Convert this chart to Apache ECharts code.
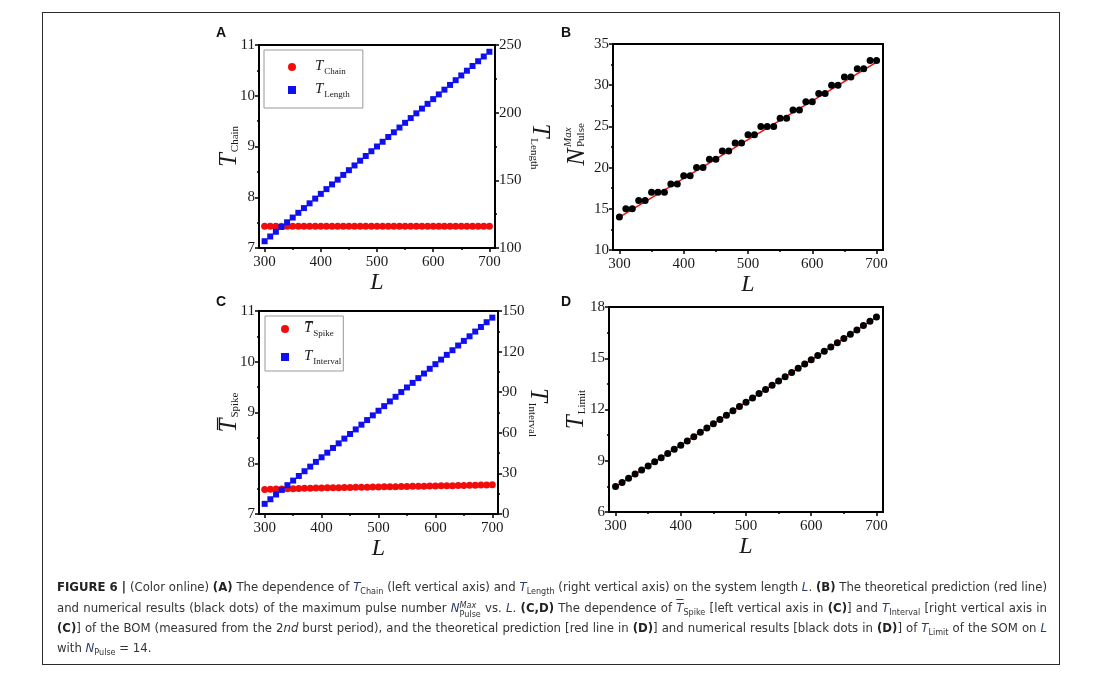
<!DOCTYPE html>
<html>
<head>
<meta charset="utf-8">
<script src="https://cdn.jsdelivr.net/npm/echarts@6/dist/echarts.min.js"></script>
<style>
  html, body { margin: 0; padding: 0; background: #fff; }
  #wrap { position: relative; width: 1105px; height: 689px; overflow: hidden; }
  #chart { position: absolute; left: 0; top: 0; width: 1105px; height: 689px; }
  #frame { position: absolute; left: 42px; top: 12px; width: 1016px; height: 651px; border: 1px solid #2a2a2a; pointer-events: none; }
  .cap { position: absolute; left: 57px; width: 990px; white-space: nowrap; font-family: 'Liberation Sans Narrow', 'DejaVu Sans Condensed', 'Liberation Sans', sans-serif; font-size: 13px; color: #333; line-height: 16px; }
  .just { text-align: justify; text-align-last: justify; }
  .cap b { font-weight: bold; color: #222; }
  .cap i.m { font-style: italic; color: #2b3a6e; }
  .cap sub { font-size: 9px; vertical-align: -3px; line-height: 0; color: #333; }
  .ss { display: inline-flex; flex-direction: column; vertical-align: 4px; line-height: 9px; font-size: 9px; }
  .ov { text-decoration: overline; }
</style>
</head>
<body>
<div id="wrap">
  <div id="chart"></div>
  <div id="frame"></div>
  <div class="cap just" style="top:579px"><b>FIGURE 6 |</b> (Color online) <b>(A)</b> The dependence of <i class="m">T</i><sub>Chain</sub> (left vertical axis) and <i class="m">T</i><sub>Length</sub> (right vertical axis) on the system length <i class="m">L</i>. <b>(B)</b> The theoretical prediction (red line)</div>
  <div class="cap just" style="top:600px">and numerical results (black dots) of the maximum pulse number <i class="m">N</i><span class="ss"><i>Max</i><span>Pulse</span></span> vs. <i class="m">L</i>. <b>(C,D)</b> The dependence of <i class="m ov">T</i><sub>Spike</sub> [left vertical axis in <b>(C)</b>] and <i class="m">T</i><sub>Interval</sub> [right vertical axis in</div>
  <div class="cap just" style="top:620px"><b>(C)</b>] of the BOM (measured from the 2<i>nd</i> burst period), and the theoretical prediction [red line in <b>(D)</b>] and numerical results [black dots in <b>(D)</b>] of <i class="m">T</i><sub>Limit</sub> of the SOM on <i class="m">L</i></div>
  <div class="cap" style="top:640px">with <i class="m">N</i><sub>Pulse</sub> = 14.</div>
</div>
<script>
// ---------------- data ----------------
const L = [300,310,320,330,340,350,360,370,380,390,400,410,420,430,440,450,460,470,480,490,500,
           510,520,530,540,550,560,570,580,590,600,610,620,630,640,650,660,670,680,690,700];
const xTicks = [300,400,500,600,700];
const xMinorTicks = [350,450,550,650];

// Panel A
const tChain = [7.43,7.43,7.43,7.43,7.43,7.43,7.43,7.43,7.43,7.43,7.43,7.43,7.43,7.43,7.43,7.43,7.43,7.43,7.43,7.43,7.43,
                7.43,7.43,7.43,7.43,7.43,7.43,7.43,7.43,7.43,7.43,7.43,7.43,7.43,7.43,7.43,7.43,7.43,7.43,7.43,7.43];
const tLength = [105,108.5,112,115.5,119,122.5,126,129.5,133,136.5,140,143.5,147,150.5,154,157.5,161,164.5,168,171.5,175,
                 178.5,182,185.5,189,192.5,196,199.5,203,206.5,210,213.5,217,220.5,224,227.5,231,234.5,238,241.5,245];

// Panel B
const nPulseMax = [14,15,15,16,16,17,17,17,18,18,19,19,20,20,21,21,22,22,23,23,24,
                   24,25,25,25,26,26,27,27,28,28,29,29,30,30,31,31,32,32,33,33];
const nPulseTheoryL = [300,700];
const nPulseTheory = [14.0,32.8];

// Panel C
const tSpike = [7.485,7.488,7.492,7.495,7.497,7.500,7.503,7.505,7.508,7.510,7.512,7.515,7.517,7.519,7.521,7.523,7.525,7.527,7.529,7.531,7.533,
                7.535,7.537,7.539,7.541,7.543,7.545,7.547,7.549,7.551,7.553,7.555,7.557,7.559,7.561,7.563,7.565,7.567,7.569,7.571,7.575];
const tInterval = [7.5,10.9,14.4,17.8,21.3,24.7,28.1,31.6,35.0,38.5,41.9,45.3,48.8,52.2,55.7,59.1,62.5,66.0,69.4,72.9,76.3,
                   79.7,83.2,86.6,90.1,93.5,96.9,100.4,103.8,107.3,110.7,114.1,117.6,121.0,124.5,127.9,131.3,134.8,138.2,141.7,145.1];

// Panel D
const tLimit = [7.49,7.73,7.97,8.22,8.46,8.70,8.94,9.18,9.43,9.67,9.91,10.16,10.41,10.67,10.92,11.17,11.42,11.67,11.93,12.18,12.43,
                12.68,12.93,13.17,13.42,13.67,13.92,14.17,14.41,14.66,14.91,15.16,15.41,15.66,15.91,16.16,16.41,16.66,16.91,17.16,17.41];
const tLimitTheoryL = [300,400,500,600,700];
const tLimitTheory = [7.49,9.91,12.43,14.91,17.41];

// ---------------- helpers ----------------
const pairs = (xs, ys) => xs.map((x, i) => [x, ys[i]]);
const SERIF = "'Liberation Serif', 'Times New Roman', serif";
const RED = '#f20d0d', BLUE = '#0f0ff0', BLACK = '#000';

const grids = [
  { left: 259, top: 45, width: 236, height: 203 },  // A
  { left: 613, top: 44, width: 270, height: 206 },  // B
  { left: 259, top: 311, width: 239, height: 203 }, // C
  { left: 609, top: 307, width: 274, height: 205 }  // D
].map(g => Object.assign({ show: true, borderColor: '#000', borderWidth: 2, backgroundColor: 'transparent' }, g));

const labelStyle = { fontFamily: SERIF, fontSize: 15, color: '#1a1a1a' };
const lineStyle = { color: '#000', width: 2 };

function mainX(gi) {
  return {
    type: 'value', gridIndex: gi, min: 290, max: 710, position: 'bottom',
    axisLine: { show: true, lineStyle },
    axisTick: { show: true, inside: false, length: 4, customValues: xTicks, lineStyle: { width: 1.5, color: '#000' } },
    axisLabel: Object.assign({ margin: 7, customValues: xTicks }, labelStyle),
    splitLine: { show: false },
    name: 'L', nameLocation: 'middle', nameGap: 19,
    nameTextStyle: { fontFamily: SERIF, fontStyle: 'italic', fontSize: 24, color: '#1a1a1a' }
  };
}
function minorX(gi) {
  return {
    type: 'value', gridIndex: gi, min: 290, max: 710, position: 'bottom',
    axisLine: { show: false },
    axisTick: { show: true, inside: false, length: 2, customValues: xMinorTicks, lineStyle: { width: 1.5, color: '#000' } },
    axisLabel: { show: false }, splitLine: { show: false }
  };
}
function yAx(gi, min, max, interval, position, ticks, name, rot, gap, rich) {
  return {
    type: 'value', gridIndex: gi, min, max, interval, position,
    axisLine: { show: true, onZero: false, lineStyle },
    axisTick: { show: ticks, inside: false, length: 4, lineStyle: { width: 1.5, color: '#000' } },
    minorTick: { show: ticks, splitNumber: 2, length: 2, lineStyle: { width: 1.5, color: '#000' } },
    axisLabel: Object.assign({ margin: 4 }, labelStyle),
    splitLine: { show: false }, minorSplitLine: { show: false },
    name, nameLocation: 'middle', nameRotate: rot, nameGap: gap, nameMoveOverlap: false,
    nameTextStyle: { color: '#1a1a1a', rich }
  };
}
const titleRich = {
  t: { fontFamily: SERIF, fontStyle: 'italic', fontSize: 25, lineHeight: 26, verticalAlign: 'top', color: '#1a1a1a' },
  s: { fontFamily: SERIF, fontSize: 11, lineHeight: 12, padding: [13, 0, 0, 1], verticalAlign: 'top', color: '#1a1a1a' }
};
const legRich = {
  t: { fontFamily: SERIF, fontStyle: 'italic', fontSize: 15, lineHeight: 16, verticalAlign: 'top', color: '#1a1a1a' },
  s: { fontFamily: SERIF, fontSize: 9, lineHeight: 10, padding: [8, 0, 0, 1], verticalAlign: 'top', color: '#1a1a1a' }
};
const legNames = {
  tChain: '{t|T}{s|Chain}', tLength: '{t|T}{s|Length}',
  tSpike: '{t|T\u0305}{s|Spike}', tInterval: '{t|T}{s|Interval}'
};
function legend(left, top, names, gap, padding, textPad) {
  return {
    left, top, orient: 'vertical', itemGap: gap, itemWidth: 8, itemHeight: 8,
    borderColor: '#999', borderWidth: 1, padding,
    data: names.map((n, i) => ({ name: n, icon: i === 0 ? 'circle' : 'rect' })),
    formatter: n => legNames[n],
    textStyle: { padding: [0, 0, 0, textPad], rich: legRich },
    selectedMode: false
  };
}

const panelLabel = (x, y, t) => ({
  type: 'text', x, y,
  style: { text: t, font: "bold 14px 'Liberation Sans', Arial, sans-serif", fill: '#111', align: 'center', verticalAlign: 'middle' }
});

const option = {
  animation: false,
  backgroundColor: '#fff',
  grid: grids,
  legend: [
    legend(264, 50, ['tChain', 'tLength'], 6, [9, 13, 9, 24], 14),
    legend(265, 316, ['tSpike', 'tInterval'], 11, [5, 2, 5, 16], 10)
  ],
  xAxis: [mainX(0), mainX(1), mainX(2), mainX(3), minorX(0), minorX(1), minorX(2), minorX(3)],
  yAxis: [
    yAx(0, 7, 11, 1, 'left', true, '{t|T}{s|Chain}', 90, 16, titleRich),
    yAx(0, 100, 250, 50, 'right', true, '{t|T}{s|Length}', -90, 31, titleRich),
    yAx(1, 10, 35, 5, 'left', true, '', 90, 20, titleRich),
    yAx(2, 7, 11, 1, 'left', true, '{t|T\u0305}{s|Spike}', 90, 16, titleRich),
    yAx(2, 0, 150, 30, 'right', true, '{t|T}{s|Interval}', -90, 26, titleRich),
    yAx(3, 6, 18, 3, 'left', true, '{t|T}{s|Limit}', 90, 19, titleRich)
  ],
  graphic: [
    panelLabel(221, 33, 'A'), panelLabel(566, 33, 'B'),
    panelLabel(221, 302, 'C'), panelLabel(566, 302, 'D'),
    {
      type: 'group', x: 577, y: 157, rotation: Math.PI / 2,
      children: [
        { type: 'text', x: 0, y: 0, style: { text: 'N', font: "italic 26px " + SERIF, fill: '#1a1a1a', align: 'center', verticalAlign: 'middle' } },
        { type: 'text', x: 10, y: -9, style: { text: 'Max', font: "italic 11px " + SERIF, fill: '#1a1a1a', align: 'left', verticalAlign: 'middle' } },
        { type: 'text', x: 10, y: 4, style: { text: 'Pulse', font: "11px " + SERIF, fill: '#1a1a1a', align: 'left', verticalAlign: 'middle' } }
      ]
    }
  ],
  series: [
    { name: 'tChain', type: 'scatter', xAxisIndex: 0, yAxisIndex: 0, symbol: 'circle', symbolSize: 7,
      itemStyle: { color: RED, opacity: 1 }, data: pairs(L, tChain) },
    { name: 'tLength', type: 'scatter', xAxisIndex: 0, yAxisIndex: 1, symbol: 'rect', symbolSize: 6,
      itemStyle: { color: BLUE, opacity: 1 }, data: pairs(L, tLength) },
    { name: 'nTheory', type: 'line', xAxisIndex: 1, yAxisIndex: 2, symbol: 'none', z: 1,
      lineStyle: { color: RED, width: 1.5 }, data: pairs(nPulseTheoryL, nPulseTheory) },
    { name: 'nMax', type: 'scatter', xAxisIndex: 1, yAxisIndex: 2, symbol: 'circle', symbolSize: 7, z: 3,
      itemStyle: { color: BLACK, opacity: 1 }, data: pairs(L, nPulseMax) },
    { name: 'tSpike', type: 'scatter', xAxisIndex: 2, yAxisIndex: 3, symbol: 'circle', symbolSize: 7,
      itemStyle: { color: RED, opacity: 1 }, data: pairs(L, tSpike) },
    { name: 'tInterval', type: 'scatter', xAxisIndex: 2, yAxisIndex: 4, symbol: 'rect', symbolSize: 6,
      itemStyle: { color: BLUE, opacity: 1 }, data: pairs(L, tInterval) },
    { name: 'limTheory', type: 'line', xAxisIndex: 3, yAxisIndex: 5, symbol: 'none', z: 1,
      lineStyle: { color: RED, width: 1.5 }, data: pairs(tLimitTheoryL, tLimitTheory) },
    { name: 'tLimit', type: 'scatter', xAxisIndex: 3, yAxisIndex: 5, symbol: 'circle', symbolSize: 7, z: 3,
      itemStyle: { color: BLACK, opacity: 1 }, data: pairs(L, tLimit) }
  ]
};
const chart = echarts.init(document.getElementById('chart'), null, { renderer: 'canvas' });
chart.setOption(option);
</script>
</body>
</html>
